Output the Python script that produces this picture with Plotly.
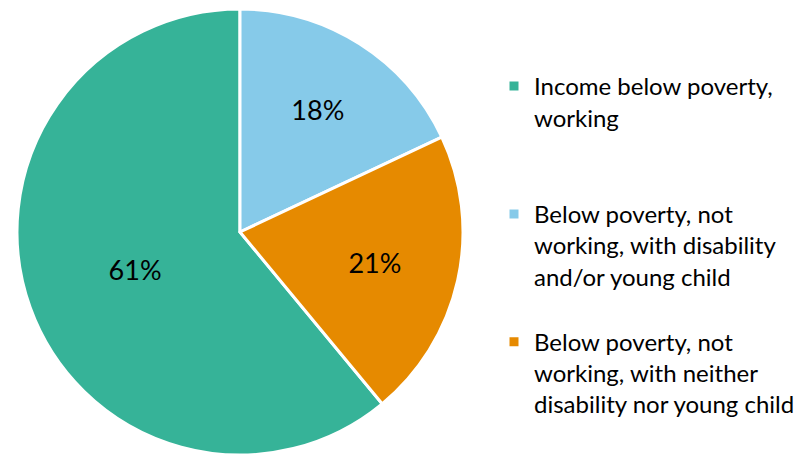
import plotly.graph_objects as go

labels = [
    "Income below poverty,<br>working<br><br>",
    "Below poverty, not<br>working, with disability<br>and/or young child<br>",
    "Below poverty, not<br>working, with neither<br>disability nor young child",
]
values = [61, 18, 21]
colors = ["#36B398", "#86CAE9", "#E68A00"]

fig = go.Figure(
    go.Pie(
        labels=labels,
        values=values,
        sort=False,
        direction="clockwise",
        rotation=140.4,
        marker=dict(colors=colors, line=dict(color="white", width=3)),
        textinfo="percent",
        texttemplate="%{percent:.0%}",
        textposition="inside",
        insidetextorientation="horizontal",
        textfont=dict(family="Lato", size=27, color="black"),
        domain=dict(x=[17 / 811, 463 / 811], y=[0, 446 / 455]),
        hoverinfo="skip",
    )
)

fig.update_layout(
    width=811,
    height=455,
    margin=dict(l=0, r=0, t=0, b=0),
    paper_bgcolor="white",
    plot_bgcolor="white",
    showlegend=True,
    legend=dict(
        x=494 / 811,
        xanchor="left",
        y=1 - 64 / 455,
        yanchor="top",
        valign="top",
        font=dict(family="Lato", size=24, color="black"),
        traceorder="normal",
        itemclick=False,
    ),
)

fig.write_html("out.html")
